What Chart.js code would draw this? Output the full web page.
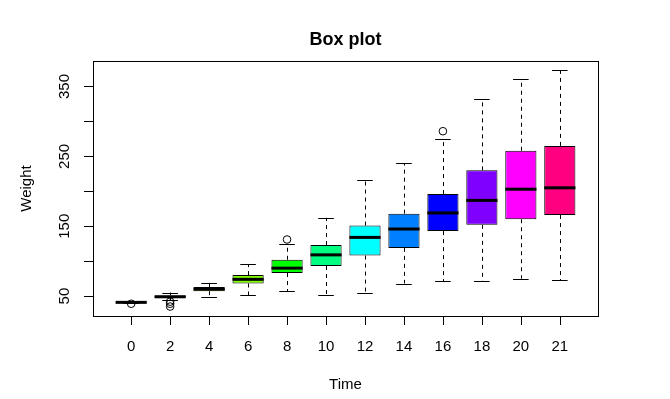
<!DOCTYPE html>
<html><head><meta charset="utf-8">
<script src="https://cdn.jsdelivr.net/npm/chart.js@4.4.1/dist/chart.umd.min.js"></script>
<style>html,body{margin:0;padding:0;background:#fff}#wrap{width:670px;height:399px;position:relative}</style>
</head><body><div id="wrap"><canvas id="c" width="670" height="399"></canvas></div>
<script>
const categories = ['0','2','4','6','8','10','12','14','16','18','20','21'];
const lowerWhisker = [40,44,48,51,57,51,54,68,71,71,75,73];
const q1 = [41,48,57,68,83,93,108,119,143,152,160,166];
const median = [41,49,60,74,90,109,134,146,169,187,203,205];
const q3 = [42,51,63,80,102,123,151,168,196,230,258,265];
const upperWhisker = [43,55,69,96,125,162,216,240,275,332,361,373];
const outliers = [[39],[42,39,35],[],[],[131],[],[],[],[286],[],[],[]];
const boxColors = ['#FF0000','#FF8000','#FFFF00','#80FF00','#00FF00','#00FF80','#00FFFF','#0080FF','#0000FF','#8000FF','#FF00FF','#FF0080'];
const yTicks = [50,100,150,200,250,300,350];
const yTickLabels = ['50','','150','','250','','350'];
const chartTitle = 'Box plot';

const FONT = '"Liberation Sans", Arial, Helvetica, sans-serif';
Chart.defaults.font.family = FONT;
Chart.defaults.color = '#000';

const boxPlugin = {
  id: 'boxExtras',
  beforeDatasetsDraw(chart) {
    const {ctx, scales: {x, y}} = chart;
    ctx.save();
    ctx.strokeStyle = '#000';
    ctx.lineWidth = 1;
    ctx.setLineDash([4, 4]);
    categories.forEach((c, i) => {
      const px = Math.round(x.getPixelForValue(i)) + 0.5;
      ctx.beginPath();
      ctx.moveTo(px, y.getPixelForValue(q3[i]));
      ctx.lineTo(px, y.getPixelForValue(upperWhisker[i]));
      ctx.moveTo(px, y.getPixelForValue(q1[i]));
      ctx.lineTo(px, y.getPixelForValue(lowerWhisker[i]));
      ctx.stroke();
    });
    ctx.restore();
  },
  afterDatasetsDraw(chart) {
    const {ctx, scales: {x, y}} = chart;
    const unit = x.getPixelForValue(1) - x.getPixelForValue(0);
    ctx.save();
    ctx.strokeStyle = '#000';
    categories.forEach((c, i) => {
      const px = x.getPixelForValue(i);
      ctx.lineWidth = 1;
      ctx.beginPath();
      [upperWhisker[i], lowerWhisker[i]].forEach(v => {
        const py = Math.round(y.getPixelForValue(v)) + 0.5;
        ctx.moveTo(px - unit * 0.2, py);
        ctx.lineTo(px + unit * 0.2, py);
      });
      ctx.stroke();
      ctx.lineWidth = 3;
      ctx.beginPath();
      const my = y.getPixelForValue(median[i]);
      ctx.moveTo(px - unit * 0.4, my);
      ctx.lineTo(px + unit * 0.4, my);
      ctx.stroke();
      ctx.lineWidth = 1;
      outliers[i].forEach(v => {
        ctx.beginPath();
        ctx.arc(px, y.getPixelForValue(v), 3.8, 0, Math.PI * 2);
        ctx.stroke();
      });
    });
    ctx.restore();
  },
  afterDraw(chart) {
    const ctx = chart.ctx;
    const a = chart.chartArea;
    const x = chart.scales.x, y = chart.scales.y;
    ctx.save();
    ctx.setLineDash([]);
    ctx.strokeStyle = '#000';
    ctx.lineWidth = 1;
    ctx.strokeRect(Math.round(a.left) + 0.5, Math.round(a.top) + 0.5, Math.round(a.right - a.left), Math.round(a.bottom - a.top));
    const by = Math.round(a.bottom);
    ctx.beginPath();
    categories.forEach((c, i) => {
      const px = Math.round(x.getPixelForValue(i)) + 0.5;
      ctx.moveTo(px, by);
      ctx.lineTo(px, by + 9);
    });
    ctx.stroke();
    ctx.fillStyle = '#000';
    ctx.textAlign = 'center';
    ctx.textBaseline = 'middle';
    ctx.font = 'bold 18px ' + FONT;
    ctx.fillText(chartTitle, (a.left + a.right) / 2, 40);
    ctx.font = '15px ' + FONT;
    yTicks.forEach((v, k) => {
      if (!yTickLabels[k]) return;
      ctx.save();
      ctx.translate(a.left - 28, y.getPixelForValue(v));
      ctx.rotate(-Math.PI / 2);
      ctx.fillText(yTickLabels[k], 0, 0);
      ctx.restore();
    });
    ctx.restore();
  }
};

new Chart(document.getElementById('c'), {
  type: 'bar',
  data: {
    datasets: [{
      data: categories.map((c, i) => ({x: i, y: [q1[i], q3[i]]})),
      backgroundColor: boxColors,
      borderColor: '#000',
      borderWidth: 1,
      borderSkipped: false,
      barPercentage: 0.8,
      categoryPercentage: 1.0
    }]
  },
  options: {
    responsive: false,
    animation: false,
    events: [],
    layout: {padding: {left: 0, right: 72, top: 61, bottom: 0}},
    plugins: {
      legend: {display: false},
      tooltip: {enabled: false},
      title: {display: false}
    },
    scales: {
      x: {
        type: 'linear',
        offset: false,
        min: -0.98,
        max: 11.98,
        afterBuildTicks: s => { s.ticks = categories.map((c, i) => ({value: i})); },
        afterFit: s => { s.height = 83; },
        ticks: {
          autoSkip: false,
          maxRotation: 0,
          padding: 13,
          font: {size: 15, family: FONT, lineHeight: 1.2},
          color: '#000',
          callback: (v, idx) => categories[idx]
        },
        grid: {display: false, offset: false, drawOnChartArea: false, tickLength: 9},
        border: {display: false},
        title: {display: true, text: 'Time', color: '#000', font: {size: 15, family: FONT, lineHeight: 1.2}, padding: {top: 0, bottom: 5}}
      },
      y: {
        type: 'linear',
        min: 21.48,
        max: 386.52,
        afterBuildTicks: s => { s.ticks = yTicks.map(v => ({value: v})); },
        afterFit: s => { s.width = 93; },
        ticks: {display: false},
        grid: {drawOnChartArea: false, drawTicks: true, tickLength: 9, color: '#000', lineWidth: 1},
        border: {display: false},
        title: {display: true, text: 'Weight', color: '#000', font: {size: 15, family: FONT, lineHeight: 1.2}, padding: {top: 17.5, bottom: 0}}
      }
    }
  },
  plugins: [boxPlugin]
});
</script>
</body></html>
